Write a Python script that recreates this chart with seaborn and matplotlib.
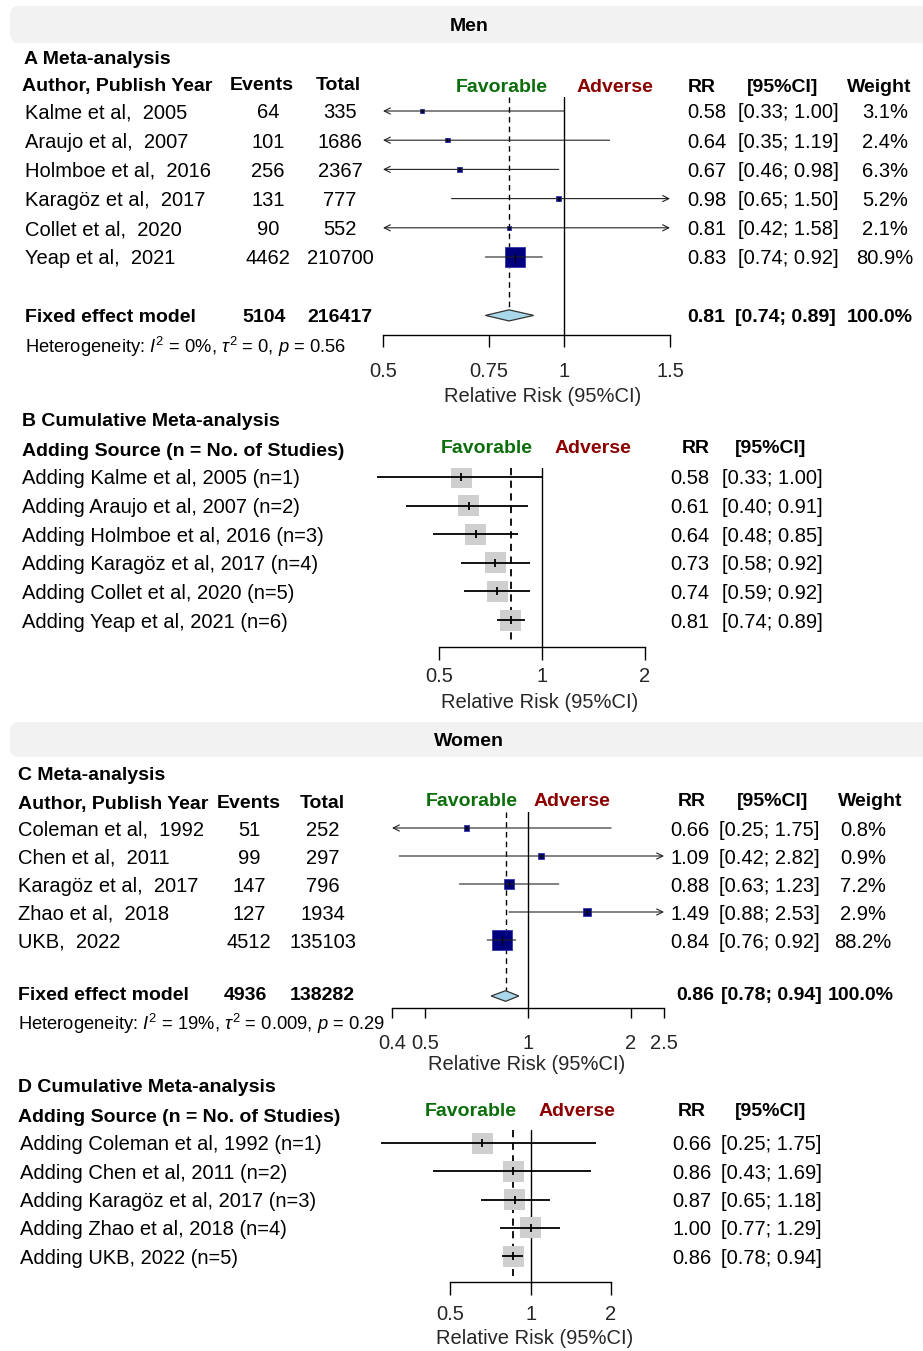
import numpy as np
import matplotlib
matplotlib.use("Agg")
import matplotlib.pyplot as plt
import matplotlib.transforms as mtransforms
from matplotlib.patches import FancyBboxPatch, Polygon
from matplotlib.ticker import NullLocator
import seaborn as sns

# ---------------- data ----------------
men_study = ["Kalme et al,  2005", "Araujo et al,  2007", "Holmboe et al,  2016",
             "Karagöz et al,  2017", "Collet et al,  2020", "Yeap et al,  2021"]
men_events = [64, 101, 256, 131, 90, 4462]
men_total = [335, 1686, 2367, 777, 552, 210700]
men_rr = [0.58, 0.64, 0.67, 0.98, 0.81, 0.83]
men_lo = [0.33, 0.35, 0.46, 0.65, 0.42, 0.74]
men_hi = [1.00, 1.19, 0.98, 1.50, 1.58, 0.92]
men_weight = [3.1, 2.4, 6.3, 5.2, 2.1, 80.9]
men_fixed = [0.81, 0.74, 0.89]
men_fixed_n = [5104, 216417]
men_het = r"Heterogeneity: $I^2$ = 0%, $\tau^2$ = 0, $p$ = 0.56"

men_cum_label = ["Adding Kalme et al, 2005 (n=1)", "Adding Araujo et al, 2007 (n=2)",
                 "Adding Holmboe et al, 2016 (n=3)", "Adding Karagöz et al, 2017 (n=4)",
                 "Adding Collet et al, 2020 (n=5)", "Adding Yeap et al, 2021 (n=6)"]
men_cum_rr = [0.58, 0.61, 0.64, 0.73, 0.74, 0.81]
men_cum_lo = [0.33, 0.40, 0.48, 0.58, 0.59, 0.74]
men_cum_hi = [1.00, 0.91, 0.85, 0.92, 0.92, 0.89]

women_study = ["Coleman et al,  1992", "Chen et al,  2011", "Karagöz et al,  2017",
               "Zhao et al,  2018", "UKB,  2022"]
women_events = [51, 99, 147, 127, 4512]
women_total = [252, 297, 796, 1934, 135103]
women_rr = [0.66, 1.09, 0.88, 1.49, 0.84]
women_lo = [0.25, 0.42, 0.63, 0.88, 0.76]
women_hi = [1.75, 2.82, 1.23, 2.53, 0.92]
women_weight = [0.8, 0.9, 7.2, 2.9, 88.2]
women_fixed = [0.86, 0.78, 0.94]
women_fixed_n = [4936, 138282]
women_het = r"Heterogeneity: $I^2$ = 19%, $\tau^2$ = 0.009, $p$ = 0.29"

women_cum_label = ["Adding Coleman et al, 1992 (n=1)", "Adding Chen et al, 2011 (n=2)",
                   "Adding Karagöz et al, 2017 (n=3)", "Adding Zhao et al, 2018 (n=4)",
                   "Adding UKB, 2022 (n=5)"]
women_cum_rr = [0.66, 0.86, 0.87, 1.00, 0.86]
women_cum_lo = [0.25, 0.43, 0.65, 0.77, 0.78]
women_cum_hi = [1.75, 1.69, 1.18, 1.29, 0.94]

ticks_A = [0.5, 0.75, 1, 1.5]
ticks_B = [0.5, 1, 2]
ticks_C = [0.4, 0.5, 1, 2, 2.5]
ticks_D = [0.5, 1, 2]

# ---------------- style ----------------
sns.set_theme(style="white")
plt.rcParams['font.family'] = ['Liberation Sans', 'DejaVu Sans']
plt.rcParams['mathtext.fontset'] = 'custom'
plt.rcParams['mathtext.rm'] = 'Liberation Sans'
plt.rcParams['mathtext.it'] = 'Liberation Sans:italic'

FS = 14.5
FSB = 14
FSH = 13.2
GREEN = "#0b6e0b"
RED = "#8b0000"
NAVY = "#00007f"
DY = 2  # visual centering offset (px)

W, H = 923, 1351
fig = plt.figure(figsize=(W / 100, H / 100), dpi=100)


def fx(x):
    return x / W


def fy(y):
    return 1 - y / H


def ftext(x, y, s, ha='left', bold=False, color='black', size=None):
    fig.text(fx(x), fy(y + DY), s, ha=ha, va='center', color=color,
             fontsize=size or (FSB if bold else FS),
             fontweight='bold' if bold else 'normal')


def banner(t, b, label):
    p = FancyBboxPatch((fx(10), fy(b)), fx(930) - fx(10), (b - t) / H,
                       boxstyle="round,pad=0,rounding_size=0.008",
                       transform=fig.transFigure, facecolor="#f2f2f2",
                       edgecolor="none", zorder=0)
    fig.patches.append(p)
    ftext(469, (t + b) / 2, label, ha='center', bold=True, size=14)


def make_ax(l, t, r, b, y0, dy, xmin, xmax, ticks, tlen, tpad, lab_frac, labpad):
    ax = fig.add_axes([fx(l), fy(b), fx(r) - fx(l), (b - t) / H])
    ax.set_xscale('log')
    ax.set_xlim(xmin, xmax)
    ax.set_ylim((b - y0) / dy, (t - y0) / dy)
    ax.patch.set_alpha(0)
    for s in ['top', 'left', 'right']:
        ax.spines[s].set_visible(False)
    ax.spines['bottom'].set_color('black')
    ax.spines['bottom'].set_linewidth(1.0)
    ax.spines['bottom'].set_bounds(ticks[0], ticks[-1])
    ax.set_yticks([])
    ax.set_xticks(ticks)
    ax.set_xticklabels([f"{t:g}" for t in ticks], fontsize=FS)
    ax.xaxis.set_minor_locator(NullLocator())
    ax.tick_params(axis='x', which='major', direction='out', length=tlen,
                   width=1.0, color='black', pad=tpad, bottom=True)
    ax.set_xlabel("Relative Risk (95%CI)", fontsize=FS, labelpad=labpad)
    ax.xaxis.label.set_x(lab_frac)
    ax.axvline(1, color='black', lw=1.0, zorder=1)
    return ax


def row_tr(ax):
    tr = mtransforms.blended_transform_factory(fig.transFigure, ax.transData)
    return mtransforms.offset_copy(tr, fig=fig, y=-DY, units='dots')


def row_text(ax, x, ys, labels, ha='left', bold=False, color='black', size=None):
    tr = row_tr(ax)
    for y, s in zip(ys, labels):
        ax.text(fx(x), y, s, transform=tr, ha=ha, va='center', clip_on=False,
                fontsize=size or (FSB if bold else FS),
                fontweight='bold' if bold else 'normal', color=color)


def ci_lines(ax, ys, lo, hi, lw, color):
    xmin, xmax = ax.get_xlim()
    for y, a, b in zip(ys, lo, hi):
        left = a < xmin
        right = b >= xmax
        aa = max(a, xmin)
        bb = min(b, xmax)
        style = {(True, True): '<->', (True, False): '<-',
                 (False, True): '->', (False, False): '-'}[(left, right)]
        ax.annotate('', xy=(bb, y), xytext=(aa, y),
                    arrowprops=dict(arrowstyle=style, lw=lw, color=color,
                                    shrinkA=0, shrinkB=0, mutation_scale=11),
                    zorder=4, annotation_clip=False)


def diamond(ax, y, est, lo, hi, h):
    poly = Polygon([[lo, y], [est, y - h], [hi, y], [est, y + h]], closed=True,
                   facecolor="#a8d8ea", edgecolor="#333333", lw=0.9, zorder=3)
    ax.add_patch(poly)


def meta_panel(ax, rr, lo, hi, weight, fixed, expo, maxside):
    n = len(rr)
    ys = np.arange(n)
    w = np.asarray(weight)
    side_px = np.maximum(maxside * (w / w.max()) ** expo, 4.5)
    s = (side_px * 0.72) ** 2
    sns.scatterplot(x=rr, y=ys, ax=ax, marker='s', s=s, color=NAVY,
                    edgecolor="#3535a8", linewidth=0.6, zorder=3, legend=False)
    ci_lines(ax, ys, lo, hi, lw=0.8, color="#222222")
    tick = np.minimum(side_px * 0.7, 9) * 0.72
    for x, y, t in zip(rr, ys, tick):
        ax.plot([x], [y], marker='|', ms=t, mew=0.9, color='black', zorder=5)
    fy_ = n + 1
    diamond(ax, fy_, fixed[0], fixed[1], fixed[2], 0.19)
    top = ax.get_ylim()[1]
    ax.vlines(fixed[0], top, fy_, colors='black', linestyles=(0, (4, 3)), lw=1.0, zorder=2)
    return ys, fy_


def cum_panel(ax, rr, lo, hi, dash_end):
    n = len(rr)
    ys = np.arange(n)
    sns.scatterplot(x=rr, y=ys, ax=ax, marker='s', s=(21 * 0.72) ** 2,
                    color="#cfcfcf", edgecolor="none", linewidth=0, zorder=2,
                    legend=False)
    ax.hlines(ys, lo, hi, colors='black', lw=1.3, zorder=4)
    ax.plot(rr, ys, ls='none', marker='|', ms=8 * 0.72, mew=1.3, color='black', zorder=5)
    top = ax.get_ylim()[1]
    ax.vlines(rr[-1], top, dash_end, colors='black', linestyles=(0, (4, 3)),
              lw=1.3, zorder=1)
    return ys


# ================= MEN =================
banner(6, 43, "Men")
ftext(24, 57, "A Meta-analysis", bold=True)
ftext(22, 84, "Author, Publish Year", bold=True)
ftext(262, 84, "Events", ha='center', bold=True)
ftext(338, 84, "Total", ha='center', bold=True)
ftext(502, 86, "Favorable", ha='center', bold=True, color=GREEN)
ftext(615, 86, "Adverse", ha='center', bold=True, color=RED)
ftext(702, 86, "RR", ha='center', bold=True)
ftext(783, 86, "[95%CI]", ha='center', bold=True)
ftext(879, 86, "Weight", ha='center', bold=True)

axA = make_ax(383, 97, 670, 335, 111, 29.2, ticks_A[0], ticks_A[-1], ticks_A,
              tlen=8.5, tpad=11, lab_frac=0.557, labpad=4)
ysA, fA = meta_panel(axA, men_rr, men_lo, men_hi, men_weight, men_fixed, 0.5, 20)
row_text(axA, 25, ysA, men_study)
row_text(axA, 268, ysA, [str(v) for v in men_events], ha='center')
row_text(axA, 340, ysA, [str(v) for v in men_total], ha='center')
row_text(axA, 707, ysA, [f"{v:.2f}" for v in men_rr], ha='center')
row_text(axA, 788, ysA, [f"[{a:.2f}; {b:.2f}]" for a, b in zip(men_lo, men_hi)], ha='center')
row_text(axA, 885, ysA, [f"{v:.1f}%" for v in men_weight], ha='center')
row_text(axA, 25, [fA], ["Fixed effect model"], bold=True)
row_text(axA, 264, [fA], [str(men_fixed_n[0])], ha='center', bold=True)
row_text(axA, 340, [fA], [str(men_fixed_n[1])], ha='center', bold=True)
row_text(axA, 706, [fA], [f"{men_fixed[0]:.2f}"], ha='center', bold=True)
row_text(axA, 785, [fA], [f"[{men_fixed[1]:.2f}; {men_fixed[2]:.2f}]"], ha='center', bold=True)
row_text(axA, 880, [fA], ["100.0%"], ha='center', bold=True)
row_text(axA, 25, [fA + 1.0], [men_het], size=FSH)

# ---- B ----
ftext(22, 419, "B Cumulative Meta-analysis", bold=True)
ftext(22, 449, "Adding Source (n = No. of Studies)", bold=True)
ftext(487, 446, "Favorable", ha='center', bold=True, color=GREEN)
ftext(593, 446, "Adverse", ha='center', bold=True, color=RED)
ftext(696, 446, "RR", ha='center', bold=True)
ftext(771, 446, "[95%CI]", ha='center', bold=True)

xminB = 0.5 * 2 ** (-(439 - 375) / 103)
axB = make_ax(375, 468, 645, 647, 477, 28.6, xminB, 2, ticks_B,
              tlen=9, tpad=5.5, lab_frac=0.611, labpad=5)
ysB = cum_panel(axB, men_cum_rr, men_cum_lo, men_cum_hi, 5.75)
row_text(axB, 22, ysB, men_cum_label)
row_text(axB, 690, ysB, [f"{v:.2f}" for v in men_cum_rr], ha='center')
row_text(axB, 772, ysB, [f"[{a:.2f}; {b:.2f}]" for a, b in zip(men_cum_lo, men_cum_hi)], ha='center')

# ================= WOMEN =================
banner(722, 757, "Women")
ftext(18, 774, "C Meta-analysis", bold=True)
ftext(18, 802, "Author, Publish Year", bold=True)
ftext(249, 802, "Events", ha='center', bold=True)
ftext(322, 802, "Total", ha='center', bold=True)
ftext(472, 800, "Favorable", ha='center', bold=True, color=GREEN)
ftext(572, 799, "Adverse", ha='center', bold=True, color=RED)
ftext(692, 800, "RR", ha='center', bold=True)
ftext(773, 800, "[95%CI]", ha='center', bold=True)
ftext(870, 800, "Weight", ha='center', bold=True)

axC = make_ax(392, 812, 664, 1008, 828, 28, ticks_C[0], ticks_C[-1], ticks_C,
              tlen=7, tpad=11.5, lab_frac=0.496, labpad=1.5)
ysC, fC = meta_panel(axC, women_rr, women_lo, women_hi, women_weight, women_fixed, 0.28, 20)
row_text(axC, 18, ysC, women_study)
row_text(axC, 249, ysC, [str(v) for v in women_events], ha='center')
row_text(axC, 323, ysC, [str(v) for v in women_total], ha='center')
row_text(axC, 690, ysC, [f"{v:.2f}" for v in women_rr], ha='center')
row_text(axC, 769, ysC, [f"[{a:.2f}; {b:.2f}]" for a, b in zip(women_lo, women_hi)], ha='center')
row_text(axC, 863, ysC, [f"{v:.1f}%" for v in women_weight], ha='center')
row_text(axC, 18, [fC - 0.1], ["Fixed effect model"], bold=True)
row_text(axC, 245, [fC - 0.1], [str(women_fixed_n[0])], ha='center', bold=True)
row_text(axC, 322, [fC - 0.1], [str(women_fixed_n[1])], ha='center', bold=True)
row_text(axC, 695, [fC - 0.1], [f"{women_fixed[0]:.2f}"], ha='center', bold=True)
row_text(axC, 771, [fC - 0.1], [f"[{women_fixed[1]:.2f}; {women_fixed[2]:.2f}]"], ha='center', bold=True)
row_text(axC, 861, [fC - 0.1], ["100.0%"], ha='center', bold=True)
row_text(axC, 18, [fC + 0.93], [women_het], size=FSH)

# ---- D ----
ftext(18, 1086, "D Cumulative Meta-analysis", bold=True)
ftext(18, 1116, "Adding Source (n = No. of Studies)", bold=True)
ftext(471, 1110, "Favorable", ha='center', bold=True, color=GREEN)
ftext(577, 1110, "Adverse", ha='center', bold=True, color=RED)
ftext(692, 1110, "RR", ha='center', bold=True)
ftext(771, 1110, "[95%CI]", ha='center', bold=True)

xminD = 2 ** (-(530 - 381) / 80)
axD = make_ax(381, 1130, 611, 1282, 1143, 28.25, xminD, 2, ticks_D,
              tlen=9, tpad=7.5, lab_frac=0.67, labpad=4)
ysD = cum_panel(axD, women_cum_rr, women_cum_lo, women_cum_hi, 4.7)
row_text(axD, 20, ysD, women_cum_label)
row_text(axD, 692, ysD, [f"{v:.2f}" for v in women_cum_rr], ha='center')
row_text(axD, 771, ysD, [f"[{a:.2f}; {b:.2f}]" for a, b in zip(women_cum_lo, women_cum_hi)], ha='center')

fig.savefig("out.png", dpi=100)
